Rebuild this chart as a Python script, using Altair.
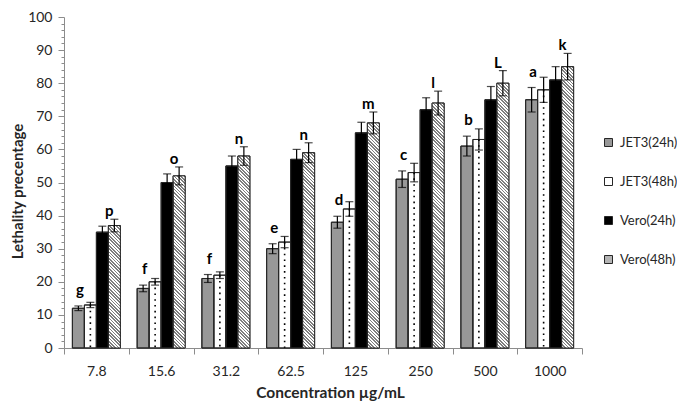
import altair as alt
import pandas as pd

# ---------------- data ----------------
concentrations = ["7.8", "15.6", "31.2", "62.5", "125", "250", "500", "1000"]
series_names = ["JET3(24h)", "JET3(48h)", "Vero(24h)", "Vero(48h)"]

jet3_24 = [12, 18, 21, 30, 38, 51, 61, 75]
jet3_24_err = [0.7, 1.0, 1.2, 1.5, 1.8, 2.5, 3.0, 3.7]
jet3_48 = [13, 20, 22, 32, 42, 53, 63, 78]
jet3_48_err = [0.8, 1.0, 1.0, 1.7, 2.2, 2.8, 3.2, 3.8]
vero_24 = [35, 50, 55, 57, 65, 72, 75, 81]
vero_24_err = [1.8, 2.6, 3.0, 3.0, 3.2, 3.6, 4.0, 4.0]
vero_48 = [37, 52, 58, 59, 68, 74, 80, 85]
vero_48_err = [1.9, 2.7, 2.8, 3.0, 3.3, 3.6, 3.8, 4.0]

jet3_letters = ["g", "f", "f", "e", "d", "c", "b", "a"]
vero_letters = ["p", "o", "n", "n", "m", "l", "L", "k"]

values = [jet3_24, jet3_48, vero_24, vero_48]
errors = [jet3_24_err, jet3_48_err, vero_24_err, vero_48_err]

rows = []
for s, vals, errs in zip(series_names, values, errors):
    for c, v, e in zip(concentrations, vals, errs):
        rows.append({"conc": c, "series": s, "value": v, "err": e})
df = pd.DataFrame(rows)

letters_jet = pd.DataFrame({
    "conc": concentrations,
    "letter": jet3_letters,
    "series": series_names[0],
    "anchor": [v + e for v, e in zip(jet3_24, jet3_24_err)],
})
letters_vero = pd.DataFrame({
    "conc": concentrations,
    "letter": vero_letters,
    "series": series_names[3],
    "anchor": [v + e for v, e in zip(vero_48, vero_48_err)],
})

# ---------------- layout / style ----------------
W, H = 518, 331
PAD = {"left": 56, "top": 9, "right": 95, "bottom": 53}
FONT = "Lato"
TXT = "#262626"
AXIS_GREY = "#8c8c8c"
OFFSET_PAD_OUTER = 0.698
Y_TITLE = "Lethality precentage"
X_TITLE = "Concentration µg/mL"

cat_step = W / len(concentrations)
bar_w = cat_step / (len(series_names) + 2 * OFFSET_PAD_OUTER)
unit_px = H / 100.0
seg_units = 2
seg_h = seg_units * unit_px
period = unit_px
dark_w = 1.6
span = bar_w + seg_h

# diagonal hatch gradient (bbox units), stripes top-left -> bottom-right
stops = []
pos = 0.0
while pos < span - 1e-9:
    d_end = min(pos + dark_w, span)
    stops.append(alt.GradientStop(color="#7f7f7f", offset=pos / span))
    stops.append(alt.GradientStop(color="#7f7f7f", offset=d_end / span))
    l_end = min(pos + period, span)
    if l_end > d_end:
        stops.append(alt.GradientStop(color="#ffffff", offset=d_end / span))
        stops.append(alt.GradientStop(color="#ffffff", offset=l_end / span))
    pos += period
lam = span / (bar_w ** 2 + seg_h ** 2)
hatch = alt.LinearGradient(
    gradient="linear", stops=stops,
    x1=0, y1=1, x2=lam * bar_w, y2=1 - lam * seg_h,
)

x_axis = alt.Axis(
    tickBand="extent", labelAngle=0, domainColor=AXIS_GREY, tickColor=AXIS_GREY,
    tickSize=6, labelFont=FONT, labelFontSize=14, labelColor=TXT, labelPadding=10,
    titleFont=FONT, titleFontSize=15.5, titleFontWeight="bold", titleColor=TXT,
    titleX=266, titleY=44, titleBaseline="middle", titleAlign="center",
)
y_axis = alt.Axis(
    values=list(range(0, 101, 2)),
    labelExpr="datum.value % 10 === 0 ? datum.label : ''",
    labelOverlap=False, grid=False,
    tickSize={"condition": {"test": "datum.value % 10 === 0", "value": 6}, "value": 3},
    domainColor=AXIS_GREY, tickColor=AXIS_GREY,
    labelFont=FONT, labelFontSize=14, labelColor=TXT, labelPadding=6,
    titleFont=FONT, titleFontSize=15, titleFontWeight="bold", titleColor=TXT,
    titleX=-47, titleY=174, titleAngle=270, titleAlign="center", titleBaseline="middle",
)
x_scale = alt.Scale(paddingInner=0, paddingOuter=0)
y_scale = alt.Scale(domain=[0, 100], nice=False)


def xe():
    return alt.X("conc:N", sort=concentrations, scale=x_scale, title=X_TITLE, axis=x_axis)


def ye(field):
    return alt.Y(field, scale=y_scale, title=Y_TITLE, axis=y_axis)


xo = alt.XOffset(
    "series:N", sort=series_names,
    scale=alt.Scale(domain=series_names, paddingInner=0, paddingOuter=OFFSET_PAD_OUTER),
)

base = alt.Chart(df)

bars = base.mark_bar(stroke=TXT, strokeWidth=1).encode(
    x=xe(), xOffset=xo, y=ye("value:Q"),
    fill=alt.Fill(
        "series:N", sort=series_names,
        scale=alt.Scale(domain=series_names, range=["#989898", "#ffffff", "#000000", "#b4b4b4"]),
        legend=alt.Legend(
            title=None, orient="none", legendX=538, legendY=119,
            symbolType="square", symbolSize=64, symbolStrokeColor=TXT, symbolStrokeWidth=1,
            labelFont=FONT, labelFontSize=13, labelColor=TXT, labelOffset=5,
            rowPadding=25, padding=0,
        ),
    ),
)

stripes = alt.Chart(df[df["series"] == series_names[3]]).transform_calculate(
    seg=f"sequence(0, max(1, datum.value - {seg_units - 1}))"
).transform_flatten(["seg"]).transform_calculate(
    ylo="datum.seg", yhi=f"min(datum.seg + {seg_units}, datum.value)"
).mark_bar(fill=hatch, strokeWidth=0).encode(
    x=xe(), xOffset=xo, y=ye("ylo:Q"), y2="yhi:Q",
)

dots = alt.Chart(df[df["series"] == series_names[1]]).mark_rule(
    color="#000000", strokeWidth=1.6, strokeDash=[1.6, 4.2]
).encode(
    x=xe(), xOffset=xo, y=ye("value:Q"), y2=alt.datum(0),
)

outline = base.mark_bar(fillOpacity=0, stroke=TXT, strokeWidth=1).encode(
    x=xe(), xOffset=xo, y=ye("value:Q"),
)

err_rules = base.transform_calculate(
    lo="datum.value - datum.err", hi="datum.value + datum.err"
).mark_rule(color="#000000", strokeWidth=1.2).encode(
    x=xe(), xOffset=xo, y=ye("lo:Q"), y2="hi:Q",
)

err_caps = base.transform_calculate(
    lo="datum.value - datum.err", hi="datum.value + datum.err"
).transform_fold(["lo", "hi"], as_=["end", "cap"]).mark_tick(
    color="#000000", size=8, thickness=1.2
).encode(
    x=xe(), xOffset=xo, y=ye("cap:Q"),
)

txt_jet = alt.Chart(letters_jet).mark_text(
    font=FONT, fontSize=15, fontWeight="bold", color="#000000",
    baseline="alphabetic", dy=-11, dx=1.5,
).encode(
    x=xe(), xOffset=xo, y=ye("anchor:Q"), text="letter:N",
)

txt_vero = alt.Chart(letters_vero).mark_text(
    font=FONT, fontSize=15, fontWeight="bold", color="#000000",
    baseline="alphabetic", dy=-3, dx=-5,
).encode(
    x=xe(), xOffset=xo, y=ye("anchor:Q"), text="letter:N",
)

chart = alt.layer(
    bars, stripes, dots, outline, err_rules, err_caps, txt_jet, txt_vero
).properties(
    width=W, height=H,
    autosize=alt.AutoSizeParams(type="none"),
    padding=PAD,
    background="#ffffff",
).configure_view(stroke="transparent")

chart.save("out.html", embed_options={"renderer": "svg", "actions": False})
